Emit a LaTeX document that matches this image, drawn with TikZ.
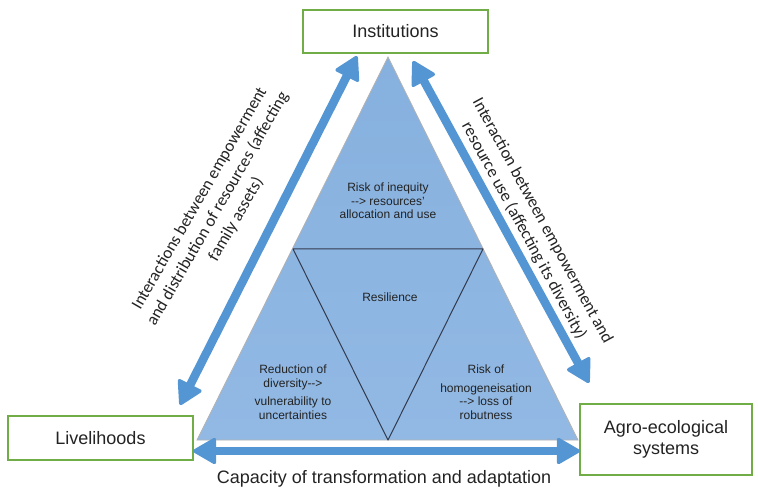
\documentclass[tikz,border=0pt]{standalone}
\usepackage{fontspec}
\setmainfont{Liberation Sans}
\newfontfamily\calibfont{Carlito}
\usetikzlibrary{arrows.meta}
\definecolor{arrblue}{RGB}{84,150,211}
\definecolor{tritop}{RGB}{134,176,222}
\definecolor{tribot}{RGB}{146,185,228}
\definecolor{boxgreen}{RGB}{112,173,71}
\definecolor{txtcol}{RGB}{35,35,35}
\definecolor{innerline}{RGB}{50,58,78}
\newcommand{\darr}{{-}{-}>}
\begin{document}
\begin{tikzpicture}[x=1pt,y=-1pt,
  greenbox/.style={draw=boxgreen, line width=2.5pt, fill=white, inner sep=0pt, text=txtcol, align=center, font=\fontsize{18}{21}\selectfont},
  bigarrow/.style={arrblue, line width=8.5pt, {Triangle[length=25pt 0 0,width=28pt 0 0,line width=3.5pt,round]}-{Triangle[length=25pt 0 0,width=28pt 0 0,line width=3.5pt,round]}},
  innertext/.style={text=txtcol, align=center, inner sep=0pt, font=\fontsize{12}{13.5}\selectfont},
  rottext/.style={text=txtcol, align=center, inner sep=0pt, font=\calibfont\fontsize{17}{21}\selectfont},
  labeltext/.style={text=txtcol, inner sep=0pt, font=\fontsize{18}{21}\selectfont}]
\useasboundingbox (0,0) rectangle (758,489);

% triangle
\coordinate (ta) at (388,57);
\coordinate (tl) at (197,440);
\coordinate (tr) at (578,440);
\coordinate (ml) at (293,249);
\coordinate (mr) at (483,249);
\coordinate (mb) at (388,440);
\shade[top color=tritop, bottom color=tribot] (ta) -- (tr) -- (tl) -- cycle;
\draw[gray!60, line width=0.8pt] (ta) -- (tr) -- (tl) -- cycle;
\draw[innerline, line width=1pt, line join=round] (ml) -- (mr) -- (mb) -- cycle;

% inner texts
\node[innertext] (t1) at (388,201) {Risk of inequity\\\darr{} resources'\\allocation and use};
\node[innertext] (t2) at (390,297) {Resilience};
\node[innertext] (t3) at (293,392) {Reduction of\\diversity\darr\\[5pt]vulnerability to\\uncertainties};
\node[innertext] (t4) at (486,392) {Risk of\\[5pt]homogeneisation\\\darr{} loss of\\robutness};

% boxes
\node[greenbox, minimum width=185pt, minimum height=43pt] (inst) at (395.5,31.5) {Institutions};
\node[greenbox, minimum width=185pt, minimum height=44pt] (live) at (100.5,438) {Livelihoods};
\node[greenbox, minimum width=172pt, minimum height=71pt] (agro) at (666,439.5) {Agro-ecological\\systems};

% arrows
\coordinate (la1) at (180,405);
\coordinate (la2) at (357,56);
\coordinate (ra1) at (413,61);
\coordinate (ra2) at (589,383);
\coordinate (ba1) at (193,451);
\coordinate (ba2) at (580,451);
\draw[bigarrow] (la1) -- (la2);
\draw[bigarrow] (ra1) -- (ra2);
\draw[bigarrow] (ba1) -- (ba2);

% rotated labels
\node[rottext, rotate=60] (ltext) at (218,209) {Interactions between empowerment\\and distribution of resources (affecting\\family assets)};
\node[rottext, rotate=-61.5] (rtext) at (533,226) {Interaction between empowerment and\\resource use (affecting its diversity)};

% bottom label
\node[labeltext] (blabel) at (384,479) {Capacity of transformation and adaptation};
\end{tikzpicture}
\end{document}
